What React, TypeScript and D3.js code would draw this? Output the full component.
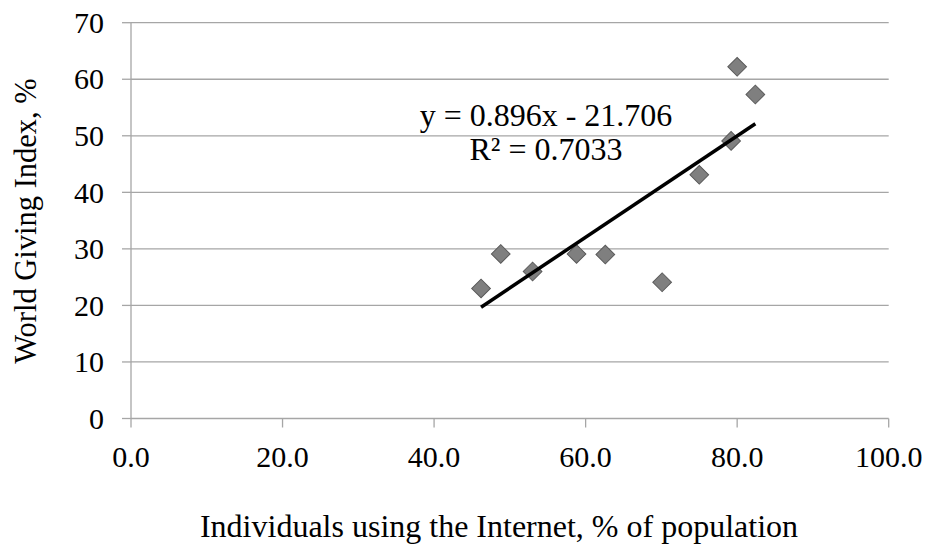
import * as d3 from "d3";

const internetPct = [46.2, 48.8, 53.0, 58.8, 62.6, 70.1, 75.0, 79.2, 80.0, 82.4];
const givingIndex = [23.0, 29.1, 26.0, 29.1, 29.0, 24.1, 43.1, 49.1, 62.2, 57.3];
const xTicks = [0, 20, 40, 60, 80, 100];
const yTicks = [0, 10, 20, 30, 40, 50, 60, 70];
const trendSlope = 0.896;
const trendIntercept = -21.706;
const equationText = "y = 0.896x - 21.706";
const rSquaredText = "R² = 0.7033";

const W = 930;
const H = 545;
const FONT = "'Liberation Serif', 'Times New Roman', serif";

export default function App() {
  const x = d3.scaleLinear().domain([0, 100]).range([131, 888.7]);
  const y = d3.scaleLinear().domain([0, 70]).range([418.5, 22.7]);

  const xMin = d3.min(internetPct)!;
  const xMax = d3.max(internetPct)!;
  const trend = d3
    .line<number>()
    .x((d) => x(d))
    .y((d) => y(trendSlope * d + trendIntercept));

  const diamond = d3.symbol().type(d3.symbolSquare).size(175)();

  return (
    <svg
      width={W}
      height={H}
      style={{ position: "absolute", left: 0, top: 0, background: "#fff" }}
      fontFamily={FONT}
    >
      {/* gridlines */}
      {yTicks.slice(1).map((t) => (
        <line key={t} x1={x(0)} x2={x(100)} y1={y(t)} y2={y(t)} stroke="#a6a6a6" strokeWidth={1.3} />
      ))}

      {/* y axis */}
      <line x1={x(0)} x2={x(0)} y1={y(0)} y2={y(70)} stroke="#a6a6a6" strokeWidth={1.3} />
      {yTicks.map((t) => (
        <g key={t}>
          <line x1={x(0) - 9} x2={x(0)} y1={y(t)} y2={y(t)} stroke="#a6a6a6" strokeWidth={1.3} />
          <text x={104} y={y(t)} dy="0.34em" textAnchor="end" fontSize={30} fill="#000">
            {t}
          </text>
        </g>
      ))}

      {/* x axis */}
      <line x1={x(0)} x2={x(100)} y1={y(0)} y2={y(0)} stroke="#a6a6a6" strokeWidth={1.3} />
      {xTicks.map((t) => (
        <g key={t}>
          <line x1={x(t)} x2={x(t)} y1={y(0)} y2={y(0) + 9} stroke="#a6a6a6" strokeWidth={1.3} />
          <text x={x(t)} y={467} textAnchor="middle" fontSize={30} fill="#000">
            {t.toFixed(1)}
          </text>
        </g>
      ))}

      {/* points */}
      {internetPct.map((v, i) => (
        <path
          key={i}
          d={diamond!}
          transform={`translate(${x(v)},${y(givingIndex[i])}) rotate(45)`}
          fill="#7f7f7f"
          stroke="#5a5a5a"
          strokeWidth={1}
        />
      ))}

      {/* trendline */}
      <path d={trend([xMin, xMax])!} stroke="#000" strokeWidth={3.5} fill="none" />

      {/* equation */}
      <text x={546} y={126} textAnchor="middle" fontSize={32} fill="#000">
        {equationText}
      </text>
      <text x={546} y={160} textAnchor="middle" fontSize={32} fill="#000">
        {rSquaredText}
      </text>

      {/* axis titles */}
      <text x={499} y={537} textAnchor="middle" fontSize={32} fill="#000">
        Individuals using the Internet, % of population
      </text>
      <text
        transform="translate(36,221) rotate(-90)"
        textAnchor="middle"
        fontSize={30.5}
        fill="#000"
      >
        World Giving Index, %
      </text>
    </svg>
  );
}
